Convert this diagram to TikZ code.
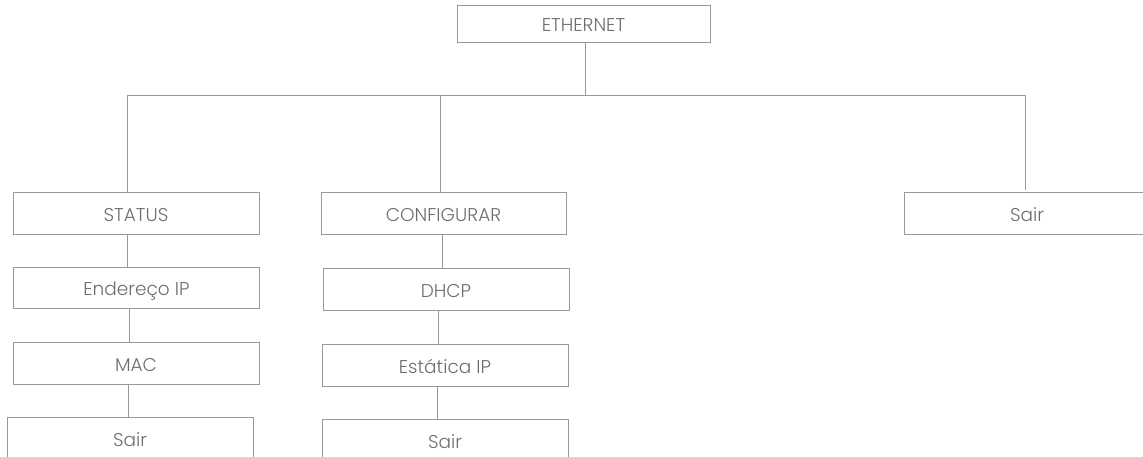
\documentclass[tikz,border=0pt]{standalone}
\usepackage{fontspec}
\setmainfont{Poppins Light}
\definecolor{linegray}{HTML}{999999}
\definecolor{textgray}{HTML}{6E6E6E}
\begin{document}
\begin{tikzpicture}[x=1pt,y=-1pt,
  box/.style={draw=linegray,line width=1pt,rectangle,minimum width=246pt,minimum height=42pt,inner sep=0pt,text=textgray,text height=16.6pt,text depth=0pt,font=\fontsize{18.5}{20}\selectfont},
  conn/.style={draw=linegray,line width=1pt}]
\useasboundingbox (0,0) rectangle (1143,456);
\clip (0,0) rectangle (1143,456);
\node[box,minimum width=253pt,minimum height=37pt] (eth) at (583.5,23.5) {ETHERNET};
\node[box] (status) at (136,213) {STATUS};
\node[box,minimum height=41pt] (ip) at (136.5,287.5) {Endereço IP};
\node[box] (mac) at (136,363) {MAC};
\node[box] (sairL) at (130,438) {Sair};
\node[box,minimum width=245pt] (conf) at (443.5,213) {CONFIGURAR};
\node[box] (dhcp) at (446,289) {DHCP};
\node[box] (est) at (445,365) {Estática IP};
\node[box] (sairM) at (445,440) {Sair};
\node[box] (sairR) at (1027,213) {Sair};
\coordinate (busL) at (127,95);
\coordinate (busR) at (1025,95);
\draw[conn] (eth.south -| 585,0) -- (585,95);
\draw[conn] (busL) -- (busR);
\draw[conn] (busL) -- (status.north -| busL);
\draw[conn] (440,95) -- (conf.north -| 440,0);
\draw[conn] (busR) -- ([yshift=2pt]sairR.north -| busR);
\draw[conn] (status.south -| 127,0) -- (ip.north -| 127,0);
\draw[conn] (ip.south -| 129,0) -- (mac.north -| 129,0);
\draw[conn] (mac.south -| 128,0) -- (sairL.north -| 128,0);
\draw[conn] (conf.south -| 442,0) -- (dhcp.north -| 442,0);
\draw[conn] (dhcp.south -| 438,0) -- (est.north -| 438,0);
\draw[conn] (est.south -| 437,0) -- (sairM.north -| 437,0);
\end{tikzpicture}
\end{document}
